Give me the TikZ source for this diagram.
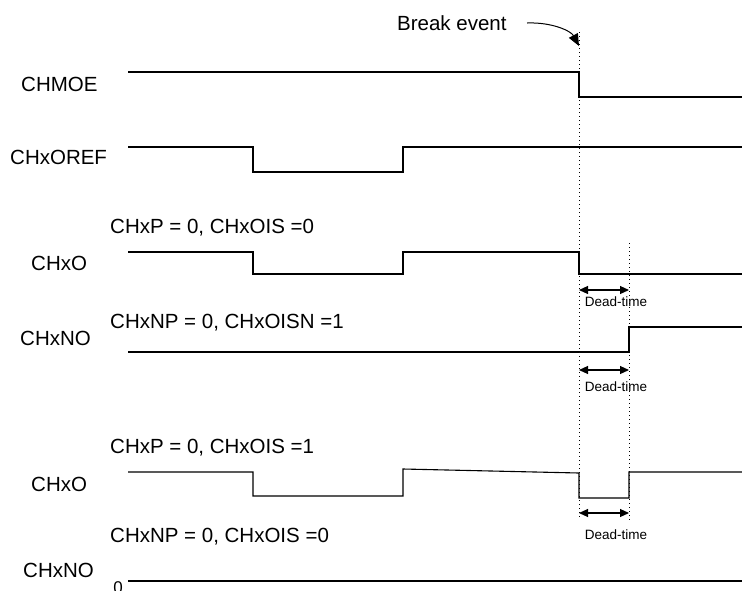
\documentclass[tikz,border=0pt]{standalone}
\usepackage{fontspec}
\setmainfont{Liberation Sans}
\usetikzlibrary{arrows.meta}

\begin{document}
\begin{tikzpicture}[x=1pt,y=-1pt,>={Triangle[length=9pt,width=8pt]},
  sig/.style={line width=1.1pt},
  sname/.style={font=\fontsize{20.5}{24}\selectfont,anchor=west,inner sep=0pt},
  cfg/.style={font=\fontsize{20.5}{24}\selectfont,anchor=west,inner sep=0pt},
  guide/.style={line width=0.8pt,dash pattern=on 1pt off 3pt},
  dtlbl/.style={font=\fontsize{13.5}{16}\selectfont,inner sep=0pt}]
 \useasboundingbox (0,0) rectangle (742,590);
 % --- signal names ---
 \node[sname] (moe) at (21,84) {CHMOE};
 \node[sname] (oref) at (10,157) {CHxOREF};
 \node[sname] (o1) at (31,263) {CHxO};
 \node[sname] (no1) at (20,338) {CHxNO};
 \node[sname] (o2) at (31,484) {CHxO};
 \node[sname] (no2) at (23,570) {CHxNO};
 % --- polarity / idle settings ---
 \node[cfg] (c1) at (110,228) {CHxP = 0, CHxOIS =0};
 \node[cfg] (c2) at (110,323) {CHxNP = 0, CHxOISN =1};
 \node[cfg] (c3) at (110,448) {CHxP = 0, CHxOIS =1};
 \node[cfg] (c4) at (110,537) {CHxNP = 0, CHxOIS =0};
 \node[font=\fontsize{17}{20}\selectfont,anchor=north,inner sep=0pt] (zero) at (118,581) {0};
 % --- waveforms ---
 \draw[sig] (128,72) -- (579,72) -- (579,97) -- (742,97);
 \draw[sig] (128,147) -- (253,147) -- (253,172) -- (403,172) -- (403,147) -- (742,147);
 \draw[sig] (128,252) -- (253,252) -- (253,274) -- (403,274) -- (403,252) -- (579,252) -- (579,274) -- (742,274);
 \draw[sig] (128,352) -- (629,352) -- (629,327) -- (742,327);
 \draw[sig] (128,472) -- (253,472) -- (253,496) -- (403,496) -- (403,469) -- (579,473) -- (579,498) -- (629,498) -- (629,472) -- (742,472);
 \draw[sig] (zero.north east) ++(5,0) -- (742,581);
 % --- break event ---
 \draw[guide] (579,32) -- (579,520);
 \draw[guide] (629,243) -- (629,523);
 \node[cfg] (brk) at (397,23) {Break event};
 \coordinate (brkfrom) at (527,23);
 \coordinate (brkto) at (579,46);
 \draw[-{Triangle[length=12pt,width=10pt]},line width=1pt] (brkfrom) .. controls (552,22) and (571,31) .. (brkto);
 % --- dead-time ---
 \foreach \i/\ya/\yt in {1/290/302,2/370/387,3/513/535} {
   \coordinate (dta\i) at (579,\ya);
   \coordinate (dtb\i) at (629,\ya);
   \draw[<->,line width=1.1pt] (dta\i) -- (dtb\i);
   \node[dtlbl] (dt\i) at (616,\yt) {Dead-time};
 }
\end{tikzpicture}
\end{document}
